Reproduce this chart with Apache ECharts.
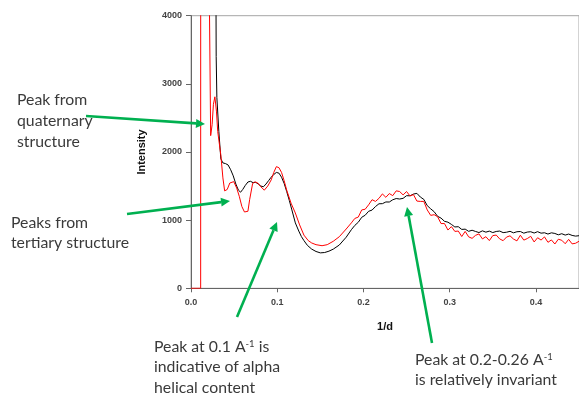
<!DOCTYPE html>
<html><head><meta charset="utf-8">
<script src="https://cdn.jsdelivr.net/npm/echarts@6/dist/echarts.min.js"></script>
<style>html,body{margin:0;padding:0;background:#fff}#c{width:579px;height:399px}</style>
</head><body><div id="c"></div><script>
// Scattering profiles: intensity against 1/d for two samples
const blackX = [0.0285,0.0292,0.0300,0.0323,0.0346,0.037,0.040,0.043,0.046,0.049,0.052,0.055,0.0575,0.060,0.063,0.066,0.069,0.072,0.075,0.078,0.081,0.084,0.087,0.090,0.093,0.096,0.099,0.102,0.105,0.108,0.111,0.114,0.117,0.121,0.125,0.128,0.131,0.135,0.140,0.145,0.150,0.155,0.160,0.165,0.172,0.180,0.186,
  0.190,0.194,0.198,0.202,0.206,0.210,0.214,0.218,0.222,0.226,0.230,0.234,0.238,0.242,0.246,0.250,0.254,0.258,0.262,0.266,0.270,0.274,0.278,0.282,0.286,0.290,0.294,0.298,0.302,0.306,0.310,0.314,0.318,0.322,0.326,0.330,0.334,0.338,0.342,0.346,0.350,0.354,0.358,0.362,0.366,0.370,0.374,0.378,0.382,0.386,0.390,0.394,0.398,0.402,0.406,0.410,0.414,0.418,0.422,0.426,0.430,0.434,0.438,0.442,0.446,0.450];
const blackY = [6000,3400,2800,2300,1900,1840,1830,1810,1740,1650,1530,1440,1410,1450,1510,1560,1570,1550,1555,1530,1500,1490,1530,1580,1630,1670,1700,1690,1630,1540,1420,1290,1150,960,840,760,700,630,575,540,520,525,545,575,635,750,860,
  923,969,1042,1072,1130,1148,1200,1240,1242,1267,1266,1299,1317,1310,1320,1359,1357,1383,1393,1339,1305,1213,1166,1124,1056,1030,983,970,938,900,904,864,868,836,852,834,818,843,824,839,818,834,840,817,823,836,814,830,833,809,825,830,811,831,809,815,796,814,805,785,801,781,796,776,766,772];

const redX = [0,0.0112,0.0113,0.0200,0.0228,0.0245,0.026,0.0277,0.0295,0.031,0.0346,0.037,0.039,0.042,0.045,0.0496,0.053,0.056,0.059,0.062,0.064,0.066,0.068,0.0715,0.074,0.077,0.081,0.085,0.089,0.093,0.096,0.099,0.102,0.105,0.108,0.111,0.116,0.121,0.126,0.131,0.136,0.140,0.145,0.152,0.158,0.165,0.172,0.180,0.186,
  0.190,0.194,0.198,0.202,0.206,0.210,0.214,0.218,0.222,0.226,0.230,0.234,0.238,0.242,0.246,0.250,0.254,0.258,0.262,0.266,0.270,0.274,0.278,0.282,0.286,0.290,0.294,0.298,0.302,0.306,0.310,0.314,0.318,0.322,0.326,0.330,0.334,0.338,0.342,0.346,0.350,0.354,0.358,0.362,0.366,0.370,0.374,0.378,0.382,0.386,0.390,0.394,0.398,0.402,0.406,0.410,0.414,0.418,0.422,0.426,0.430,0.434,0.438,0.442,0.446,0.450];
const redY = [0,0,9000,6000,2240,2400,2700,2810,2600,2300,1955,1620,1430,1450,1545,1565,1470,1350,1200,1120,1100,1130,1300,1540,1560,1550,1490,1440,1500,1590,1700,1785,1770,1700,1580,1440,1250,1105,930,780,700,665,640,625,640,690,757,870,960,
  1025,1045,1150,1160,1225,1300,1275,1320,1385,1335,1390,1360,1430,1420,1370,1420,1355,1375,1280,1275,1275,1150,1070,1080,1050,950,950,855,905,835,840,760,835,755,733,777,798,725,757,700,773,781,725,699,752,770,723,696,779,707,730,763,680,742,708,754,675,710,650,720,705,654,718,652,661,690];

const xTicks = [0, 0.1, 0.2, 0.3, 0.4];
const yTicks = [0, 1000, 2000, 3000, 4000];

const pair = (xs, ys) => xs.map((x, i) => [x, ys[i]]);

const chart = echarts.init(document.getElementById('c'), null, {renderer: 'canvas'});

const GREEN = '#00b050';
const TXT = '#3a3a3a';
const FONT = 'Lato';
const FS = 15.8;

function arrow(x1, y1, x2, y2) {
  const dx = x2 - x1, dy = y2 - y1, L = Math.hypot(dx, dy);
  const ux = dx / L, uy = dy / L, hl = 9, hw = 4.5;
  const bx = x2 - ux * hl, by = y2 - uy * hl;
  return [
    {type: 'line', z: 50, shape: {x1, y1, x2: bx, y2: by}, style: {stroke: GREEN, lineWidth: 2.6}},
    {type: 'polygon', z: 50, shape: {points: [[x2, y2], [bx - uy * hw, by + ux * hw], [bx + uy * hw, by - ux * hw]]}, style: {fill: GREEN}}
  ];
}
function label(x, y, text) {
  return {type: 'text', z: 40, x, y, style: {text, fill: TXT, font: FS + 'px ' + FONT, verticalAlign: 'middle', align: 'left'}};
}
function supLabel(x, y, a, b) {
  return {type: 'text', z: 40, x, y, style: {
    text: '{n|' + a + '}{s|-1}' + (b ? '{n|' + b + '}' : ''),
    verticalAlign: 'middle', align: 'left',
    rich: {n: {fontSize: FS, fontFamily: FONT, fill: TXT, color: TXT}, s: {fontSize: 9.5, fontFamily: FONT, color: TXT, fill: TXT, verticalAlign: 'top', padding: [0, 0, 7, 0]}}
  }};
}

chart.setOption({
  animation: false,
  backgroundColor: '#fff',
  grid: {left: 191, right: -2, top: 15.7, bottom: 110.7, show: true, borderColor: '#a6a6a6', borderWidth: 1},
  xAxis: {
    type: 'value', min: 0, max: 0.45, interval: 0.1,
    name: '1/d', nameLocation: 'middle', nameGap: 33,
    nameTextStyle: {fontFamily: 'Liberation Sans', fontWeight: 'bold', fontSize: 11, color: '#111'},
    axisLine: {lineStyle: {color: '#666', width: 1}},
    axisTick: {lineStyle: {color: '#666'}, length: 4},
    splitLine: {show: false},
    axisLabel: {
      margin: 10, fontFamily: 'Liberation Sans', fontWeight: 'bold', fontSize: 9, color: '#444',
      formatter: v => xTicks.some(t => Math.abs(t - v) < 1e-9) ? v.toFixed(1) : '', showMaxLabel: false
    }
  },
  yAxis: {
    type: 'value', min: 0, max: 4000, interval: 1000,
    name: 'Intensity', nameLocation: 'middle', nameGap: 44, nameRotate: 90,
    nameTextStyle: {fontFamily: 'Liberation Sans', fontWeight: 'bold', fontSize: 11, color: '#111'},
    axisLine: {show: true, lineStyle: {color: '#666', width: 1}},
    axisTick: {show: true, lineStyle: {color: '#666'}, length: 5},
    splitLine: {show: false},
    axisLabel: {margin: 9, fontFamily: 'Liberation Sans', fontWeight: 'bold', fontSize: 9, color: '#444',
      formatter: v => yTicks.includes(v) ? String(v) : ''}
  },
  series: [
    {type: 'line', data: pair(blackX, blackY), showSymbol: false, clip: true, lineStyle: {color: '#000', width: 1}, z: 3},
    {type: 'line', data: pair(redX, redY), showSymbol: false, clip: true, lineStyle: {color: '#ff0000', width: 1}, z: 4}
  ],
  graphic: [
    label(17, 100, 'Peak from'), label(17, 121, 'quaternary'), label(17, 142, 'structure'),
    label(11, 223, 'Peaks from'), label(11, 243, 'tertiary structure'),
    supLabel(154, 347, 'Peak at 0.1 A', ' is'), label(154, 367, 'indicative of alpha'), label(154, 388, 'helical content'),
    supLabel(415, 360, 'Peak at 0.2-0.26 A', ''), label(415, 380, 'is relatively invariant'),
    ...arrow(86, 116, 205, 124),
    ...arrow(127, 214, 230, 201),
    ...arrow(237, 317, 277, 222),
    ...arrow(432, 343, 407, 207)
  ]
});
</script></body></html>
